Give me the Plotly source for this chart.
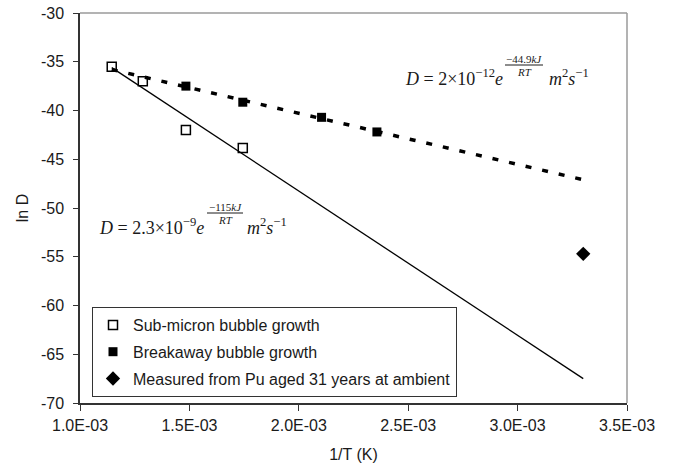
import plotly.graph_objects as go

# ---- data ----
sub_x = [1.145e-3, 1.287e-3, 1.484e-3, 1.744e-3]
sub_y = [-35.5, -37.0, -42.0, -43.85]

brk_x = [1.484e-3, 1.744e-3, 2.104e-3, 2.357e-3]
brk_y = [-37.5, -39.15, -40.7, -42.2]

pu_x = [3.30e-3]
pu_y = [-54.7]

fit_x = [1.145e-3, 3.30e-3]
fit_solid_y = [-35.6, -67.5]
fit_dot_y = [-35.8, -47.1]

x_tickvals = [1.0e-3, 1.5e-3, 2.0e-3, 2.5e-3, 3.0e-3, 3.5e-3]
x_ticktext = ["1.0E-03", "1.5E-03", "2.0E-03", "2.5E-03", "3.0E-03", "3.5E-03"]
y_tickvals = [-70, -65, -60, -55, -50, -45, -40, -35, -30]
y_ticktext = ["-70", "-65", "-60", "-55", "-50", "-45", "-40", "-35", "-30"]

legend_names = ["Sub-micron bubble growth", "Breakaway bubble growth",
                "Measured from Pu aged 31 years at ambient"]

# ---- layout geometry (pixels) ----
W, H = 674, 466
L, R, T, B = 80, 47, 13, 63
PW, PH = W - L - R, H - T - B


def px(x):
    return (x - L) / PW


def py(y):
    return (H - B - y) / PH


SANS = "Liberation Sans, Arial, sans-serif"
SERIF = "Liberation Serif, Times New Roman, serif"
INK = "#1a1a1a"

fig = go.Figure()

fig.add_trace(go.Scatter(x=fit_x, y=fit_solid_y, mode="lines",
                         line=dict(color="black", width=1.3),
                         showlegend=False, hoverinfo="skip"))
fig.add_trace(go.Scatter(x=fit_x, y=fit_dot_y, mode="lines",
                         line=dict(color="black", width=3.5, dash="6px,11px"),
                         showlegend=False, hoverinfo="skip"))

fig.add_trace(go.Scatter(x=sub_x, y=sub_y, mode="markers", name=legend_names[0],
                         legendgroup="a",
                         marker=dict(symbol="square-open", size=9, color="black",
                                     line=dict(width=1.5, color="black"))))
fig.add_trace(go.Scatter(x=brk_x, y=brk_y, mode="markers", name=legend_names[1],
                         legendgroup="b",
                         marker=dict(symbol="square", size=9, color="black")))
fig.add_trace(go.Scatter(x=pu_x, y=pu_y, mode="markers", name=legend_names[2],
                         legendgroup="c",
                         marker=dict(symbol="diamond", size=11, color="black")))

annotations = []
shapes = []


def equation(left, yc, main, num, frac_c, frac_w, unit_left):
    annotations.append(dict(x=px(left), y=py(yc), xref="paper", yref="paper",
                            text=main, showarrow=False, xanchor="left", yanchor="middle",
                            font=dict(family=SERIF, size=18, color=INK)))
    annotations.append(dict(x=px(frac_c), y=py(yc - 19), xref="paper", yref="paper",
                            text=num, showarrow=False, xanchor="center", yanchor="middle",
                            font=dict(family=SERIF, size=11, color=INK)))
    annotations.append(dict(x=px(frac_c), y=py(yc - 6), xref="paper", yref="paper",
                            text="<i>RT</i>", showarrow=False, xanchor="center", yanchor="middle",
                            font=dict(family=SERIF, size=11, color=INK)))
    shapes.append(dict(type="line", xref="paper", yref="paper",
                       x0=px(frac_c - frac_w / 2), x1=px(frac_c + frac_w / 2),
                       y0=py(yc - 13), y1=py(yc - 13),
                       line=dict(color=INK, width=1)))
    annotations.append(dict(x=px(unit_left), y=py(yc), xref="paper", yref="paper",
                            text="<i>m</i><sup>2</sup><i>s</i><sup>−1</sup>", showarrow=False,
                            xanchor="left", yanchor="middle",
                            font=dict(family=SERIF, size=18, color=INK)))


equation(403, 78, "<i>D</i> = 2×10<sup>−12</sup><i>e</i>", "−44.9<i>kJ</i>", 524, 38, 547)
equation(97, 226, "<i>D</i> = 2.3×10<sup>−9</sup><i>e</i>", "−115<i>kJ</i>", 225, 36, 245)

# top and right frame in grey
shapes.append(dict(type="line", xref="paper", yref="paper", x0=0, x1=1, y0=1, y1=1,
                   line=dict(color="#9a9a9a", width=1.5)))
shapes.append(dict(type="line", xref="paper", yref="paper", x0=1, x1=1, y0=0, y1=1,
                   line=dict(color="#9a9a9a", width=1.5)))

fig.update_layout(
    width=W, height=H,
    margin=dict(l=L, r=R, t=T, b=B, pad=0, autoexpand=False),
    paper_bgcolor="white", plot_bgcolor="white",
    font=dict(family=SANS, size=16, color=INK),
    showlegend=True,
    legend=dict(x=px(92), y=py(307), xanchor="left", yanchor="top",
                bgcolor="white", bordercolor="#333333", borderwidth=1,
                font=dict(family=SANS, size=16, color=INK),
                tracegroupgap=3, itemwidth=30),
    xaxis=dict(range=[1.0e-3, 3.5e-3], tickvals=x_tickvals, ticktext=x_ticktext,
               automargin=False,
               showgrid=False, zeroline=False, showline=True, linecolor="#333333",
               linewidth=1.5, ticks="outside", ticklen=6, tickcolor="#333333",
               ticklabelstandoff=1,
               title=dict(text="1/T (K)", standoff=16, font=dict(family=SANS, size=16))),
    yaxis=dict(range=[-70, -30], tickvals=y_tickvals, ticktext=y_ticktext,
               automargin=False,
               showgrid=False, zeroline=False,
               showline=True, linecolor="#333333", linewidth=1.5, ticks="outside",
               ticklen=5, tickcolor="#333333", ticklabelstandoff=6,
               title=dict(text="ln D", standoff=8, font=dict(family=SANS, size=16))),
    annotations=annotations,
    shapes=shapes,
)

fig.write_html("out.html")
